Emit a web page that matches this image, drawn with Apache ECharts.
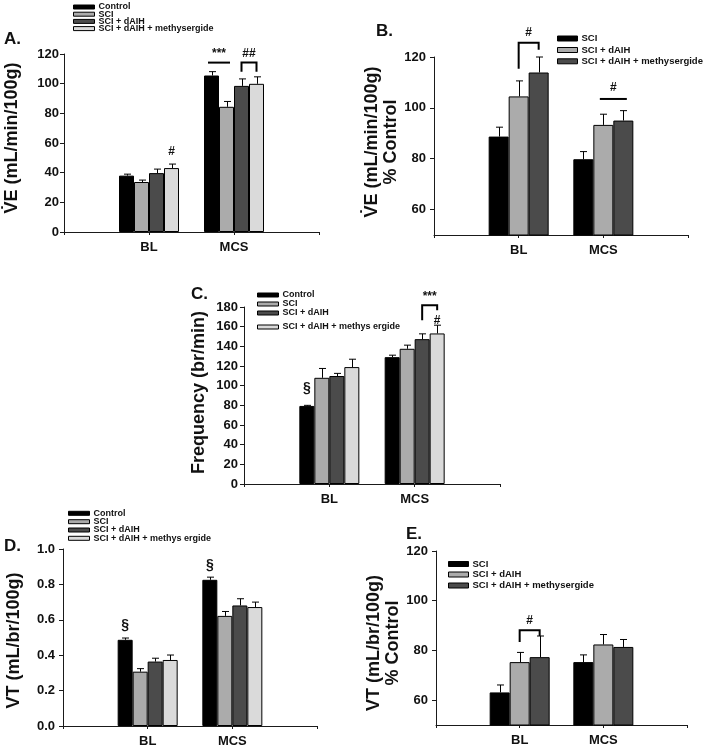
<!DOCTYPE html>
<html><head><meta charset="utf-8">
<script src="https://cdn.jsdelivr.net/npm/echarts@6/dist/echarts.min.js"></script>
<style>html,body{margin:0;padding:0;background:#fff}#c{width:705px;height:750px}</style>
</head><body><div id="c"></div>
<script>
// ---------- data ----------
const groups = ['BL', 'MCS'];
const namesACD = ['Control', 'SCI', 'SCI + dAIH', 'SCI + dAIH + methysergide'];
const namesBE = ['SCI', 'SCI + dAIH', 'SCI + dAIH + methysergide'];
const namesC = ['Control', 'SCI', 'SCI + dAIH', 'SCI + dAIH + methys ergide'];
const namesD = ['Control', 'SCI', 'SCI + dAIH', 'SCI + dAIH + methys ergide'];

// Panel A: VE (mL/min/100g) ; each row = one series, [BL, MCS]
const aMeans = [[38.0, 105.5], [33.7, 84.4], [39.7, 98.5], [43.1, 99.9]];
const aErrs  = [[1.0, 2.6], [1.3, 3.6], [2.7, 4.7], [2.7, 4.7]];
// Panel B: VE % Control
const bMeans = [[88.7, 79.8], [104.5, 93.3], [113.9, 95.0]];
const bErrs  = [[3.7, 3.0], [6.1, 4.2], [6.1, 3.9]];
// Panel C: Frequency (br/min)
const cMeans = [[79.4, 129.0], [108.0, 137.5], [109.8, 147.3], [118.9, 153.1]];
const cErrs  = [[0.6, 2.0], [9.5, 3.7], [2.7, 5.4], [8.0, 8.4]];
// Panel D: VT (mL/br/100g)
const dMeans = [[0.487, 0.826], [0.307, 0.622], [0.364, 0.681], [0.373, 0.672]];
const dErrs  = [[0.010, 0.015], [0.017, 0.025], [0.019, 0.038], [0.028, 0.028]];
// Panel E: VT % Control
const eMeans = [[63.1, 75.3], [75.3, 82.4], [77.3, 81.4]];
const eErrs  = [[3.0, 2.9], [3.9, 4.0], [8.5, 3.0]];

// tick labels
const ticksB = [60, 80, 100, 120];
const ticksE = [60, 80, 100, 120];

// significance annotations (data units)
const aBrackets = [{g: 1, a: 0, b: 1, y: 114.2}, {g: 1, a: 2, b: 3, y: 114.2, ya: 108.1, yb: 108.1}];
const aMarks = [{g: 1, at: 0.5, y: 120.5, t: '***'}, {g: 1, at: 2.5, y: 120.5, t: '##'}, {g: 0, at: 3, y: 54.1, t: '#'}];
const bBrackets = [{g: 0, a: 1, b: 2, y: 125.6, ya: 115.4, yb: 122.9}, {g: 1, a: 1, b: 2, y: 103.5}];
const bMarks = [{g: 0, at: 1.5, y: 129.6, t: '#'}, {g: 1, at: 1.5, y: 107.9, t: '#'}];
const cBrackets = [{g: 1, a: 2, b: 3, y: 181.8, ya: 166.5, yb: 176.7}];
const cMarks = [{g: 1, at: 2.5, y: 190.5, t: '***'}, {g: 1, at: 3, y: 166.0, t: '#'}, {g: 0, at: 0, y: 97.3, t: '§'}];
const dBrackets = [];
const dMarks = [{g: 0, at: 0, y: 0.572, t: '§'}, {g: 1, at: 0, y: 0.911, t: '§'}];
const eBrackets = [{g: 0, a: 1, b: 2, y: 88.1, ya: 83.4, yb: 85.8}];
const eMarks = [{g: 0, at: 1.5, y: 92.1, t: '#'}];

// ---------- styling ----------
const col4 = ['#000000', '#ababab', '#4b4b4b', '#dadada'];
const col3 = ['#000000', '#ababab', '#4b4b4b'];
const FONT = '"Liberation Sans", Arial, sans-serif';
const AX = '#1a1a1a';

const option = {
  animation: false,
  backgroundColor: '#fff',
  title: [], grid: [], xAxis: [], yAxis: [], series: [], legend: []
};

function addPanel(p) {
  const i = option.grid.length;
  const n = p.means.length;
  option.grid.push({left: p.grid[0], top: p.grid[1], width: p.grid[2], height: p.grid[3], containLabel: false});
  option.title.push({text: p.label, left: p.labelPos[0], top: p.labelPos[1], padding: 0,
    textStyle: {fontFamily: FONT, fontSize: 17, fontWeight: 'bold', color: '#111'}});
  option.xAxis.push({
    type: 'value', gridIndex: i, min: 0, max: 3, interval: 1,
    axisLine: {show: true, onZero: false, lineStyle: {color: AX, width: 1}},
    axisTick: {show: true, length: 3, lineStyle: {color: AX}},
    splitLine: {show: false},
    axisLabel: {formatter: v => groups[v - 1] || '', fontFamily: FONT, fontSize: 13, fontWeight: 'bold', color: '#111', margin: 9}
  });
  const ya = {
    type: 'value', gridIndex: i, min: p.y[0], max: p.y[1], interval: p.y[2],
    axisLine: {show: true, onZero: false, lineStyle: {color: AX, width: 1}},
    axisTick: {show: true, length: 4, lineStyle: {color: AX}},
    splitLine: {show: false},
    axisLabel: {fontFamily: FONT, fontSize: 13, fontWeight: 'bold', color: '#111', margin: p.labelMargin,
      formatter: p.fmt || (v => String(v))},
    name: p.title, nameLocation: 'middle', nameRotate: 90, nameGap: p.nameGap,
    nameTextStyle: {fontFamily: FONT, fontSize: 18, fontWeight: 'bold', color: '#111', lineHeight: 19,
      align: 'center', padding: p.namePad || 0}
  };
  if (p.customTicks) {
    ya.axisLabel.customValues = p.customTicks;
    ya.axisTick.customValues = p.customTicks;
  }
  option.yAxis.push(ya);

  // bars
  for (let k = 0; k < n; k++) {
    option.series.push({
      type: 'bar', name: p.key + ':' + p.names[k], xAxisIndex: i, yAxisIndex: i,
      data: p.means[k].map((v, g) => [g + 1, v]),
      barWidth: p.bw, barGap: '0%',
      itemStyle: {color: p.colors[k], borderColor: '#000', borderWidth: 1},
      emphasis: {disabled: true}, silent: true, z: 2
    });
  }
  // error bars
  const errData = [];
  for (let k = 0; k < n; k++) p.means[k].forEach((v, g) => errData.push([g + 1, v, p.errs[k][g], k]));
  option.series.push({
    type: 'custom', xAxisIndex: i, yAxisIndex: i, data: errData, silent: true, z: 3, clip: false,
    renderItem: (params, api) => {
      const x = api.value(0), v = api.value(1), e = api.value(2), k = api.value(3);
      const p0 = api.coord([x, v]), p1 = api.coord([x, v + e]);
      const cx = Math.round(p0[0] + (k - (n - 1) / 2) * p.bw) + 0.5;
      return {type: 'group', children: [
        {type: 'line', shape: {x1: cx, y1: p0[1], x2: cx, y2: p1[1]}, style: {stroke: '#000', lineWidth: 1}},
        {type: 'line', shape: {x1: cx - 3.5, y1: p1[1], x2: cx + 3.5, y2: p1[1]}, style: {stroke: '#000', lineWidth: 1}}
      ]};
    }
  });
  // bracket annotations
  if (p.brackets.length) {
    option.series.push({
      type: 'custom', xAxisIndex: i, yAxisIndex: i, silent: true, z: 4, clip: false,
      data: p.brackets.map(b => [b.g + 1, b.y]),
      renderItem: (params, api) => {
        const b = p.brackets[params.dataIndex];
        const c = api.coord([b.g + 1, b.y]);
        const xa = c[0] + (b.a - (n - 1) / 2) * p.bw, xb = c[0] + (b.b - (n - 1) / 2) * p.bw;
        const st = {stroke: '#000', lineWidth: 2};
        if (b.ya == null) {
          return {type: 'line', shape: {x1: xa - 3.5, y1: c[1], x2: xb + 3.5, y2: c[1]}, style: st};
        }
        const ya = api.coord([b.g + 1, b.ya])[1], yb = api.coord([b.g + 1, b.yb])[1];
        return {type: 'polyline', shape: {points: [[xa, ya], [xa, c[1]], [xb, c[1]], [xb, yb]]}, style: Object.assign({fill: null}, st)};
      }
    });
  }
  // text marks
  option.series.push({
    type: 'custom', xAxisIndex: i, yAxisIndex: i, silent: true, z: 5, clip: false,
    data: p.marks.map(m => [m.g + 1, m.y]),
    renderItem: (params, api) => {
      const m = p.marks[params.dataIndex];
      const c = api.coord([m.g + 1, m.y]);
      return {type: 'text', style: {text: m.t, x: c[0] + (m.at - (n - 1) / 2) * p.bw, y: c[1],
        align: 'center', verticalAlign: 'middle', fontFamily: FONT,
        fontSize: m.t === '§' ? 14 : 12, fontWeight: 'bold', fill: '#111'}};
    }
  });
  // legends (one per item)
  p.names.forEach((nm, k) => {
    option.legend.push({
      data: [{name: p.key + ':' + nm, icon: 'rect'}], left: p.legLeft, top: p.legRows[k] - 5,
      orient: 'vertical', padding: 0, itemGap: 0, itemWidth: p.legW, itemHeight: p.legH,
      selectedMode: false, formatter: s => s.split(':')[1],
      itemStyle: {borderColor: '#000', borderWidth: 1},
      textStyle: {fontFamily: FONT, fontSize: p.legFont, fontWeight: 'bold', color: '#111', lineHeight: 10, padding: [0, 0, 0, -1]}
    });
  });
}

addPanel({key: 'A', label: 'A.', labelPos: [4, 31], grid: [64, 54, 255, 178], y: [0, 120, 20], labelMargin: 5,
  title: 'V\u0307E (mL/min/100g)', nameGap: 42, namePad: [0, 0, 0, 10],
  means: aMeans, errs: aErrs, names: namesACD, colors: col4, bw: 15,
  brackets: aBrackets, marks: aMarks, legLeft: 73, legRows: [7, 14.2, 21.4, 28.6], legW: 21, legH: 4, legFont: 9});
addPanel({key: 'B', label: 'B.', labelPos: [376, 23], grid: [434, 57, 254, 178], y: [50, 120, 10], labelMargin: 8,
  customTicks: ticksB,
  title: 'V\u0307E (mL/min/100g)\n% Control', nameGap: 19, namePad: [0, 0, 0, 8],
  means: bMeans, errs: bErrs, names: namesBE, colors: col3, bw: 20,
  brackets: bBrackets, marks: bMarks, legLeft: 557, legRows: [38.5, 50, 61.3], legW: 20, legH: 5, legFont: 9.5});
addPanel({key: 'C', label: 'C.', labelPos: [191, 286], grid: [244, 307, 256, 177], y: [0, 180, 20], labelMargin: 6,
  title: 'Frequency (br/min)', nameGap: 35, namePad: [0, 0, 0, 6],
  means: cMeans, errs: cErrs, names: namesC, colors: col4, bw: 15,
  brackets: cBrackets, marks: cMarks, legLeft: 257, legRows: [295, 304, 313, 327], legW: 21, legH: 4, legFont: 9});
addPanel({key: 'D', label: 'D.', labelPos: [4, 538], grid: [63, 549, 254, 177], y: [0, 1, 0.2], labelMargin: 8,
  fmt: v => v.toFixed(1),
  title: 'VT (mL/br/100g)', nameGap: 39, namePad: [0, 6, 0, 0],
  means: dMeans, errs: dErrs, names: namesD, colors: col4, bw: 15,
  brackets: dBrackets, marks: dMarks, legLeft: 68, legRows: [513.3, 521.7, 530, 538.3], legW: 21, legH: 4, legFont: 9});
addPanel({key: 'E', label: 'E.', labelPos: [406, 526], grid: [436, 551, 251, 174], y: [50, 120, 10], labelMargin: 8,
  customTicks: ticksE,
  title: 'VT (mL/br/100g)\n% Control', nameGap: 33, namePad: [0, 10, 0, 0],
  means: eMeans, errs: eErrs, names: namesBE, colors: col3, bw: 20,
  brackets: eBrackets, marks: eMarks, legLeft: 448, legRows: [564, 574.5, 585.5], legW: 20, legH: 5, legFont: 9.5});

const chart = echarts.init(document.getElementById('c'), null, {renderer: 'canvas'});
chart.setOption(option);
</script></body></html>
